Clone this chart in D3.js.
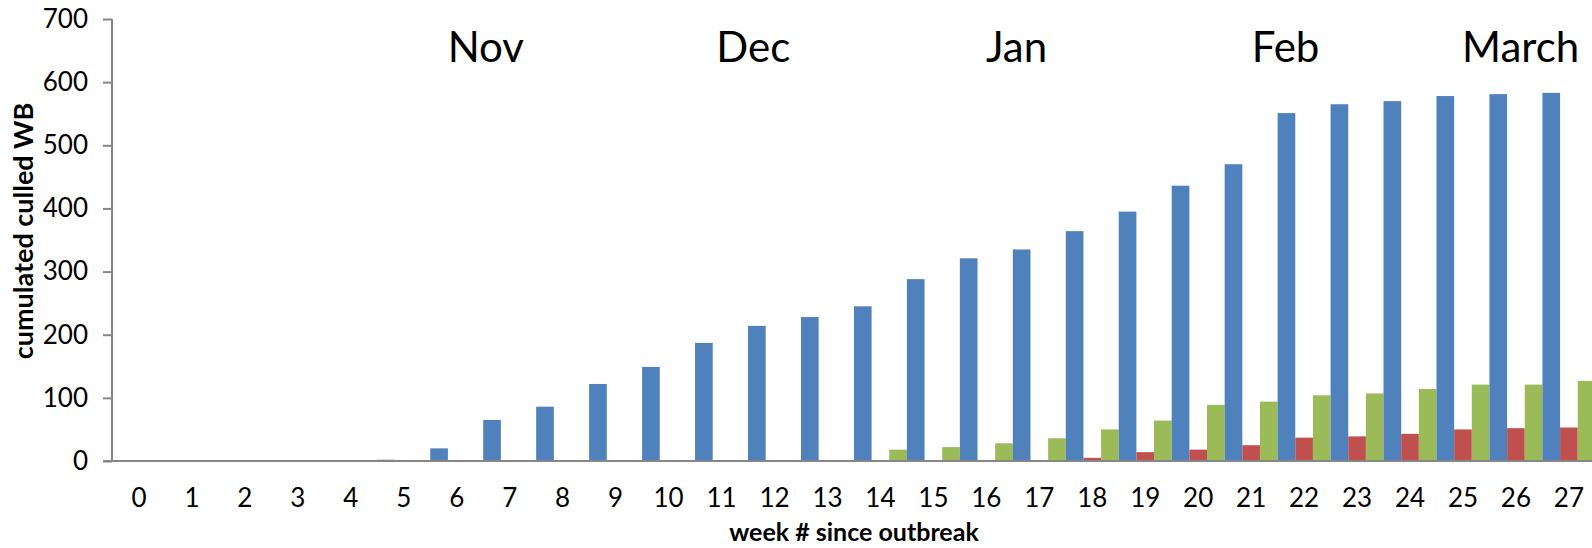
<!DOCTYPE html>
<html>
<head>
<meta charset="utf-8">
<script src="https://cdn.jsdelivr.net/npm/d3@7"></script>
<style>
  html, body { margin: 0; padding: 0; background: #fff; }
  svg { display: block; }
</style>
</head>
<body>
<svg id="chart" width="1592" height="548"></svg>
<script>
// ---- data ----
const weeks = ["0","1","2","3","4","5","6","7","8","9","10","11","12","13","14","15","16","17","18","19","20","21","22","23","24","25","26","27"];
const seriesNames = ["blue", "red", "green"];
const blueValues  = [0,0,0,0,0,2,20,65,86,122,149,187,214,228,245,288,321,335,364,395,436,470,551,565,570,578,581,583];
const redValues   = [0,0,0,0,0,0,0,0,0,0,0,0,0,0,0,0,0,1,5,14,18,25,37,39,43,50,52,53];
const greenValues = [0,0,0,0,0,0,0,0,0,0,0,0,0,0,18,22,28,36,50,64,89,94,104,107,114,121,121,127];
const yTicks = [0,100,200,300,400,500,600,700];
const monthLabels = ["Nov","Dec","Jan","Feb","March"];
const monthWeek = [6.55, 11.6, 16.57, 21.65, 26.09];
const xTitle = "week # since outbreak";
const yTitle = "cumulated culled WB";

// ---- layout ----
const colors = { blue: "#4F81BD", red: "#C0504D", green: "#9BBB59" };
const svg = d3.select("#chart");
const x0 = 112.5, step = 52.96;
const x = d3.scaleBand().domain(weeks).range([x0, x0 + step * weeks.length]).padding(0);
const xs = d3.scaleBand().domain(seriesNames).range([0, x.bandwidth()]).padding(0);
const y = d3.scaleLinear().domain([0, 700]).range([461, 19]);
const weekPos = d3.scaleLinear().domain([0, 1]).range([x0 + step / 2, x0 + step * 1.5]);

const table = weeks.map((w, i) => ({
  week: w,
  values: [
    { key: "blue", v: blueValues[i] },
    { key: "red", v: redValues[i] },
    { key: "green", v: greenValues[i] }
  ]
}));

const font = "Lato, 'Open Sans', sans-serif";

// bars
const g = svg.append("g");
g.selectAll("g.grp").data(table).join("g")
  .attr("class", "grp")
  .attr("transform", d => `translate(${x(d.week)},0)`)
  .selectAll("rect").data(d => d.values).join("rect")
  .attr("x", d => xs(d.key))
  .attr("width", xs.bandwidth())
  .attr("y", d => y(d.v))
  .attr("height", d => y(0) - y(d.v))
  .attr("fill", d => colors[d.key]);

// y axis
const yAxis = svg.append("g").attr("transform", "translate(112,0)")
  .call(d3.axisLeft(y).tickValues(yTicks).tickSize(9).tickPadding(15).tickFormat(d3.format("d")));
yAxis.select(".domain").attr("stroke", "#868686").attr("stroke-width", 2).attr("d", `M0,${y(700)}V${y(0)}`);
yAxis.selectAll(".tick line").attr("stroke", "#868686").attr("stroke-width", 2);
yAxis.selectAll(".tick text").attr("font-family", font).attr("font-size", 26).attr("fill", "#000");

// x axis
const xAxis = svg.append("g").attr("transform", `translate(0,${y(0)})`)
  .call(d3.axisBottom(x).tickSize(0).tickPadding(28));
xAxis.select(".domain").attr("stroke", "#868686").attr("stroke-width", 2).attr("d", `M103,0H1592`);
xAxis.selectAll(".tick text").attr("font-family", font).attr("font-size", 26).attr("fill", "#000");

// month labels
svg.append("g").selectAll("text").data(monthLabels).join("text")
  .attr("x", (d, i) => weekPos(monthWeek[i]))
  .attr("y", 62)
  .attr("text-anchor", "middle")
  .attr("font-family", font)
  .attr("font-size", 42)
  .attr("fill", "#000")
  .text(d => d);

// titles
svg.append("text")
  .attr("x", 854).attr("y", 541)
  .attr("text-anchor", "middle")
  .attr("font-family", font).attr("font-weight", "bold").attr("font-size", 25)
  .attr("fill", "#000")
  .text(xTitle);

svg.append("text")
  .attr("transform", "translate(33,231) rotate(-90)")
  .attr("text-anchor", "middle")
  .attr("font-family", font).attr("font-weight", "bold").attr("font-size", 27)
  .attr("fill", "#000")
  .text(yTitle);
</script>
</body>
</html>
